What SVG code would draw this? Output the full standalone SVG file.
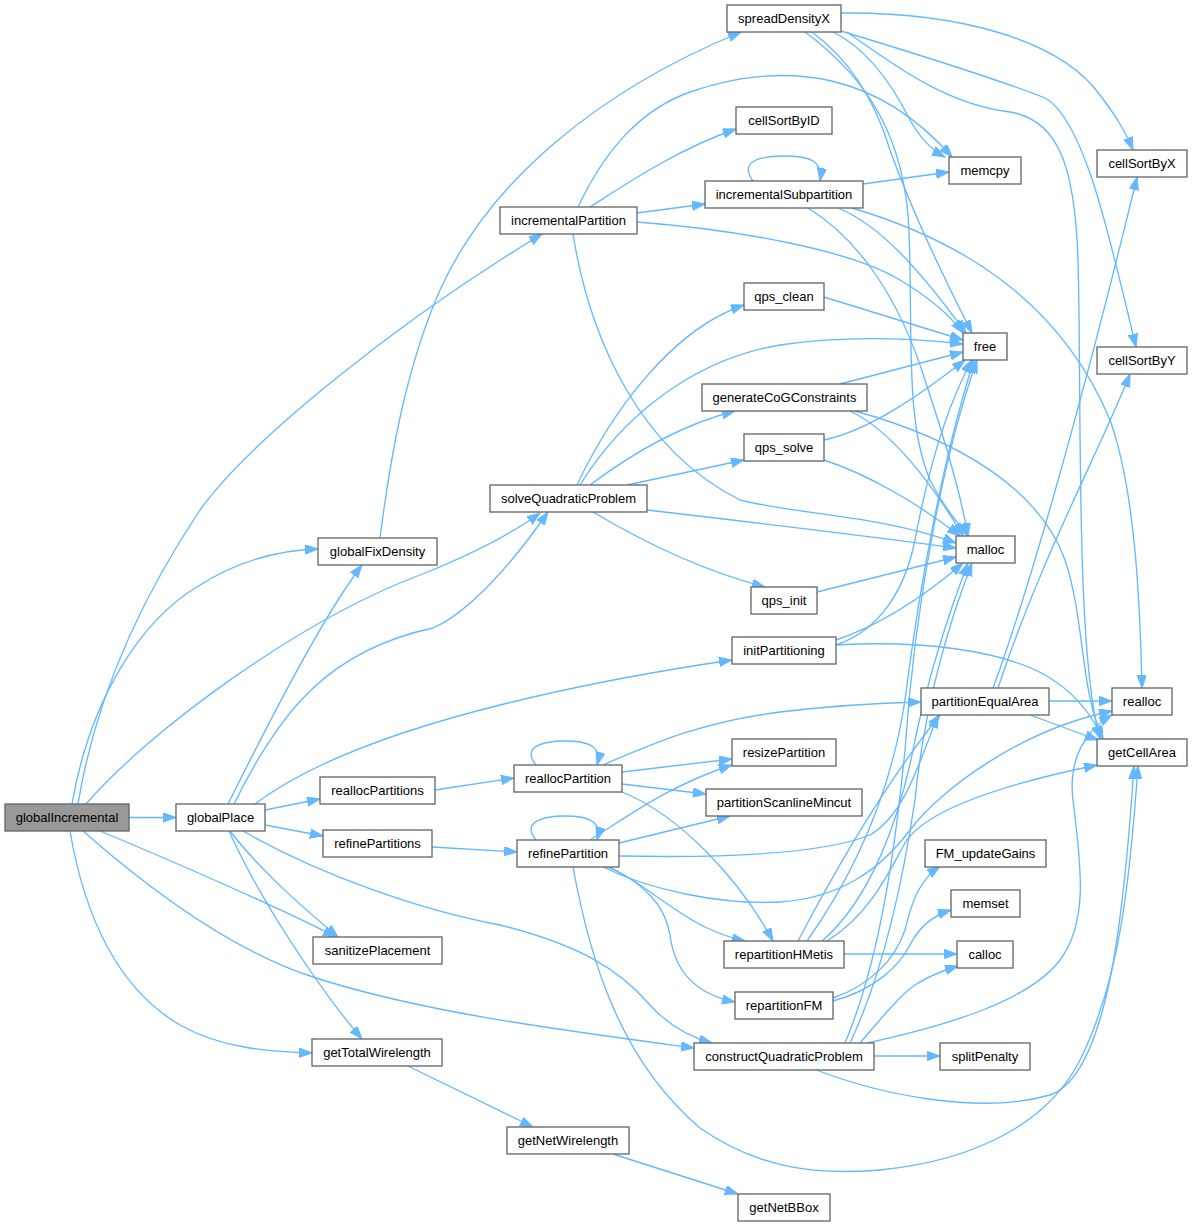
<svg xmlns="http://www.w3.org/2000/svg" width="1193" height="1227" viewBox="0 0 1193 1227">
<style>
.node rect{fill:#ffffff;stroke:#666666;stroke-width:1.33}
.root rect{fill:#999999}
.node text{font-family:"Liberation Sans",Arial,sans-serif;font-size:13px;text-anchor:middle;fill:#000000}
.edges path{fill:none;stroke:#63b8ff;stroke-width:1.33;marker-end:url(#arr)}
</style>
<defs>
<marker id="arr" markerUnits="userSpaceOnUse" markerWidth="15" markerHeight="11" refX="13" refY="4.7" orient="auto">
<path d="M0,0 L13,4.7 L0,9.4 z" fill="#63b8ff" stroke="#63b8ff" stroke-width="1"/>
</marker>
</defs>
<rect x="0" y="0" width="1193" height="1227" fill="#ffffff"/>
<g id="edges" class="edges">
<path d="M129,817.5 L176,817.5"/>
<path d="M72,804 C90,700 140,620 200,585 C240,560 280,550 318,549"/>
<path d="M78,804 C95,700 140,600 200,510 C250,440 400,320 542,234"/>
<path d="M86,804 C150,730 300,620 420,575 C470,555 510,535 540,513"/>
<path d="M100,831 C170,860 280,908 336,937"/>
<path d="M83,831 C150,890 230,950 313,977 C420,1012 560,1030 694,1048"/>
<path d="M70,831 C85,920 120,990 180,1025 C220,1048 270,1052 312,1053"/>
<path d="M265,810 L320,799"/>
<path d="M265,825 L323,836"/>
<path d="M230,831 C260,870 300,905 338,937"/>
<path d="M229,831 C260,900 320,990 362,1039"/>
<path d="M243,831 C320,875 420,910 500,925 C580,945 620,970 650,1005 C668,1025 690,1037 712,1043"/>
<path d="M228,804 C260,740 320,620 362,565"/>
<path d="M234,804 C280,710 330,650 433,628 C470,612 515,560 548,512"/>
<path d="M255,804 C300,770 380,735 500,705 C580,685 650,672 732,660"/>
<path d="M380,538 C390,460 405,370 440,290 C490,180 600,90 741,32"/>
<path d="M590,207 C620,188 675,150 736,129"/>
<path d="M637,213 L705,204"/>
<path d="M578,207 C605,150 640,110 690,92 C790,58 880,75 952,157"/>
<path d="M637,222 C740,230 850,250 900,280 C930,298 950,315 963,333"/>
<path d="M573,234 C590,340 640,450 740,500 C800,515 880,515 956,543"/>
<path d="M753,181 C740,163 755,156 785,156 C810,156 823,161 820,181"/>
<path d="M863,184 L949,172"/>
<path d="M838,208 C880,225 920,270 966,333"/>
<path d="M808,208 C860,240 900,300 925,380 C945,440 960,490 968,536"/>
<path d="M852,208 C960,240 1060,300 1110,420 C1135,490 1140,600 1142,688"/>
<path d="M824,297 L963,340"/>
<path d="M577,485 C610,415 670,330 744,305"/>
<path d="M580,485 C620,420 690,360 780,345 C850,335 910,338 963,344"/>
<path d="M590,485 C630,455 680,425 735,411"/>
<path d="M627,485 L744,460"/>
<path d="M647,510 C750,522 860,535 956,548"/>
<path d="M593,512 C640,540 700,570 765,587"/>
<path d="M840,384 L963,352"/>
<path d="M850,411 C890,430 930,480 963,536"/>
<path d="M855,411 C960,440 1040,490 1065,560 C1085,620 1080,690 1103,739"/>
<path d="M824,440 C870,430 920,395 965,360"/>
<path d="M824,460 C870,475 920,505 960,536"/>
<path d="M817,592 L956,557"/>
<path d="M836,640 C880,625 920,600 963,563"/>
<path d="M836,645 C880,630 905,590 915,540 C930,460 950,400 972,360"/>
<path d="M836,645 C920,640 1000,650 1045,675 C1075,692 1092,715 1103,739"/>
<path d="M1049,701 L1112,701"/>
<path d="M1030,715 L1098,740"/>
<path d="M993,688 C1040,560 1100,330 1137,177"/>
<path d="M998,688 C1040,560 1100,450 1130,374"/>
<path d="M435,790 L514,778"/>
<path d="M432,847 L517,852"/>
<path d="M536,765 C522,748 540,741 565,741 C590,741 602,747 597,765"/>
<path d="M622,772 L732,759"/>
<path d="M622,784 L706,794"/>
<path d="M603,765 C650,745 700,722 780,712 C830,706 880,703 921,702"/>
<path d="M622,792 C680,815 740,880 773,941"/>
<path d="M536,840 C522,823 540,816 565,816 C590,816 602,822 597,840"/>
<path d="M590,840 C630,815 670,785 732,765"/>
<path d="M619,843 L730,816"/>
<path d="M619,856 C720,858 820,855 870,835 C905,815 920,760 938,715"/>
<path d="M603,867 C650,890 720,905 780,902 C840,898 880,870 910,830 C940,790 1020,730 1112,711"/>
<path d="M607,867 C640,880 670,910 705,927 C720,934 735,939 745,941"/>
<path d="M610,867 C645,885 665,905 670,935 C675,975 700,995 735,1002"/>
<path d="M573,867 C590,960 620,1060 700,1128 C760,1170 820,1175 880,1170 C980,1160 1050,1120 1080,1060 C1120,980 1130,880 1138,766"/>
<path d="M814,1069 C880,1095 980,1115 1050,1095 C1110,1075 1125,900 1134,766"/>
<path d="M874,1056 L940,1056"/>
<path d="M860,1043 C880,1020 900,995 915,985 C930,975 945,970 958,966"/>
<path d="M850,1043 C880,980 900,900 915,800 C925,700 950,620 972,563"/>
<path d="M845,1043 C880,960 895,850 905,750 C915,600 945,450 977,360"/>
<path d="M867,1043 C950,1025 1030,1000 1060,960 C1090,920 1080,860 1073,800 C1068,760 1085,730 1112,715"/>
<path d="M844,954 L957,954"/>
<path d="M798,941 C830,880 880,790 940,715"/>
<path d="M807,941 C850,880 890,800 905,700 C920,580 945,450 974,360"/>
<path d="M822,941 C870,900 900,820 915,740 C930,670 950,610 968,563"/>
<path d="M827,941 C870,915 890,870 905,843 C925,810 1000,785 1097,765"/>
<path d="M833,998 C870,985 895,960 905,930 C912,900 920,880 940,866"/>
<path d="M833,1001 C875,990 900,965 910,945 C920,925 935,915 951,910"/>
<path d="M408,1066 L533,1127"/>
<path d="M613,1154 L738,1194"/>
<path d="M841,13 C960,12 1060,40 1100,95 C1115,115 1125,130 1133,150"/>
<path d="M841,31 C920,55 1000,80 1045,98 C1085,120 1110,240 1136,347"/>
<path d="M833,32 C870,50 895,90 910,120 C920,138 932,150 945,157"/>
<path d="M812,32 C850,60 875,100 890,150 C915,220 950,290 972,333"/>
<path d="M805,32 C870,80 905,140 909,230 C913,340 905,420 930,480 C945,510 960,525 968,536"/>
<path d="M847,32 C900,70 950,105 1010,112 C1060,120 1075,170 1078,260 C1082,400 1075,650 1100,739"/>
</g>
<g id="globalIncremental" class="node root"><rect x="5" y="804" width="124" height="27"/><text x="67" y="822">globalIncremental</text></g>
<g id="globalPlace" class="node"><rect x="176" y="804" width="89" height="27"/><text x="220.5" y="822">globalPlace</text></g>
<g id="globalFixDensity" class="node"><rect x="318" y="538" width="119" height="27"/><text x="377.5" y="556">globalFixDensity</text></g>
<g id="incrementalPartition" class="node"><rect x="500" y="207" width="137" height="27"/><text x="568.5" y="225">incrementalPartition</text></g>
<g id="solveQuadraticProblem" class="node"><rect x="490" y="485" width="157" height="27"/><text x="568.5" y="503">solveQuadraticProblem</text></g>
<g id="reallocPartitions" class="node"><rect x="320" y="777" width="115" height="27"/><text x="377.5" y="795">reallocPartitions</text></g>
<g id="refinePartitions" class="node"><rect x="323" y="830" width="109" height="27"/><text x="377.5" y="848">refinePartitions</text></g>
<g id="sanitizePlacement" class="node"><rect x="313" y="937" width="129" height="27"/><text x="377.5" y="955">sanitizePlacement</text></g>
<g id="getTotalWirelength" class="node"><rect x="312" y="1039" width="130" height="27"/><text x="377" y="1057">getTotalWirelength</text></g>
<g id="getNetWirelength" class="node"><rect x="507" y="1127" width="122" height="27"/><text x="568" y="1145">getNetWirelength</text></g>
<g id="getNetBBox" class="node"><rect x="738" y="1194" width="92" height="27"/><text x="784" y="1212">getNetBBox</text></g>
<g id="spreadDensityX" class="node"><rect x="727" y="5" width="114" height="27"/><text x="784" y="23">spreadDensityX</text></g>
<g id="cellSortByID" class="node"><rect x="736" y="107" width="96" height="27"/><text x="784" y="125">cellSortByID</text></g>
<g id="incrementalSubpartition" class="node"><rect x="705" y="181" width="158" height="27"/><text x="784" y="199">incrementalSubpartition</text></g>
<g id="memcpy" class="node"><rect x="949" y="157" width="72" height="27"/><text x="985" y="175">memcpy</text></g>
<g id="cellSortByX" class="node"><rect x="1097" y="150" width="90" height="27"/><text x="1142" y="168">cellSortByX</text></g>
<g id="free" class="node"><rect x="963" y="333" width="44" height="27"/><text x="985" y="351">free</text></g>
<g id="cellSortByY" class="node"><rect x="1097" y="347" width="90" height="27"/><text x="1142" y="365">cellSortByY</text></g>
<g id="qps_clean" class="node"><rect x="744" y="283" width="80" height="27"/><text x="784" y="301">qps_clean</text></g>
<g id="generateCoGConstraints" class="node"><rect x="702" y="384" width="165" height="27"/><text x="784.5" y="402">generateCoGConstraints</text></g>
<g id="qps_solve" class="node"><rect x="744" y="434" width="80" height="27"/><text x="784" y="452">qps_solve</text></g>
<g id="qps_init" class="node"><rect x="751" y="587" width="66" height="27"/><text x="784" y="605">qps_init</text></g>
<g id="initPartitioning" class="node"><rect x="732" y="637" width="104" height="27"/><text x="784" y="655">initPartitioning</text></g>
<g id="malloc" class="node"><rect x="956" y="536" width="59" height="27"/><text x="985.5" y="554">malloc</text></g>
<g id="partitionEqualArea" class="node"><rect x="921" y="688" width="128" height="27"/><text x="985" y="706">partitionEqualArea</text></g>
<g id="realloc" class="node"><rect x="1112" y="688" width="60" height="27"/><text x="1142" y="706">realloc</text></g>
<g id="getCellArea" class="node"><rect x="1097" y="739" width="90" height="27"/><text x="1142" y="757">getCellArea</text></g>
<g id="resizePartition" class="node"><rect x="732" y="739" width="104" height="27"/><text x="784" y="757">resizePartition</text></g>
<g id="reallocPartition" class="node"><rect x="514" y="765" width="108" height="27"/><text x="568" y="783">reallocPartition</text></g>
<g id="partitionScanlineMincut" class="node"><rect x="706" y="789" width="156" height="27"/><text x="784" y="807">partitionScanlineMincut</text></g>
<g id="refinePartition" class="node"><rect x="517" y="840" width="102" height="27"/><text x="568" y="858">refinePartition</text></g>
<g id="repartitionHMetis" class="node"><rect x="724" y="941" width="120" height="27"/><text x="784" y="959">repartitionHMetis</text></g>
<g id="repartitionFM" class="node"><rect x="735" y="992" width="98" height="27"/><text x="784" y="1010">repartitionFM</text></g>
<g id="constructQuadraticProblem" class="node"><rect x="694" y="1043" width="180" height="27"/><text x="784" y="1061">constructQuadraticProblem</text></g>
<g id="FM_updateGains" class="node"><rect x="925" y="840" width="121" height="27"/><text x="985.5" y="858">FM_updateGains</text></g>
<g id="memset" class="node"><rect x="951" y="890" width="69" height="27"/><text x="985.5" y="908">memset</text></g>
<g id="calloc" class="node"><rect x="957" y="941" width="56" height="27"/><text x="985" y="959">calloc</text></g>
<g id="splitPenalty" class="node"><rect x="940" y="1043" width="90" height="27"/><text x="985" y="1061">splitPenalty</text></g>
</svg>
